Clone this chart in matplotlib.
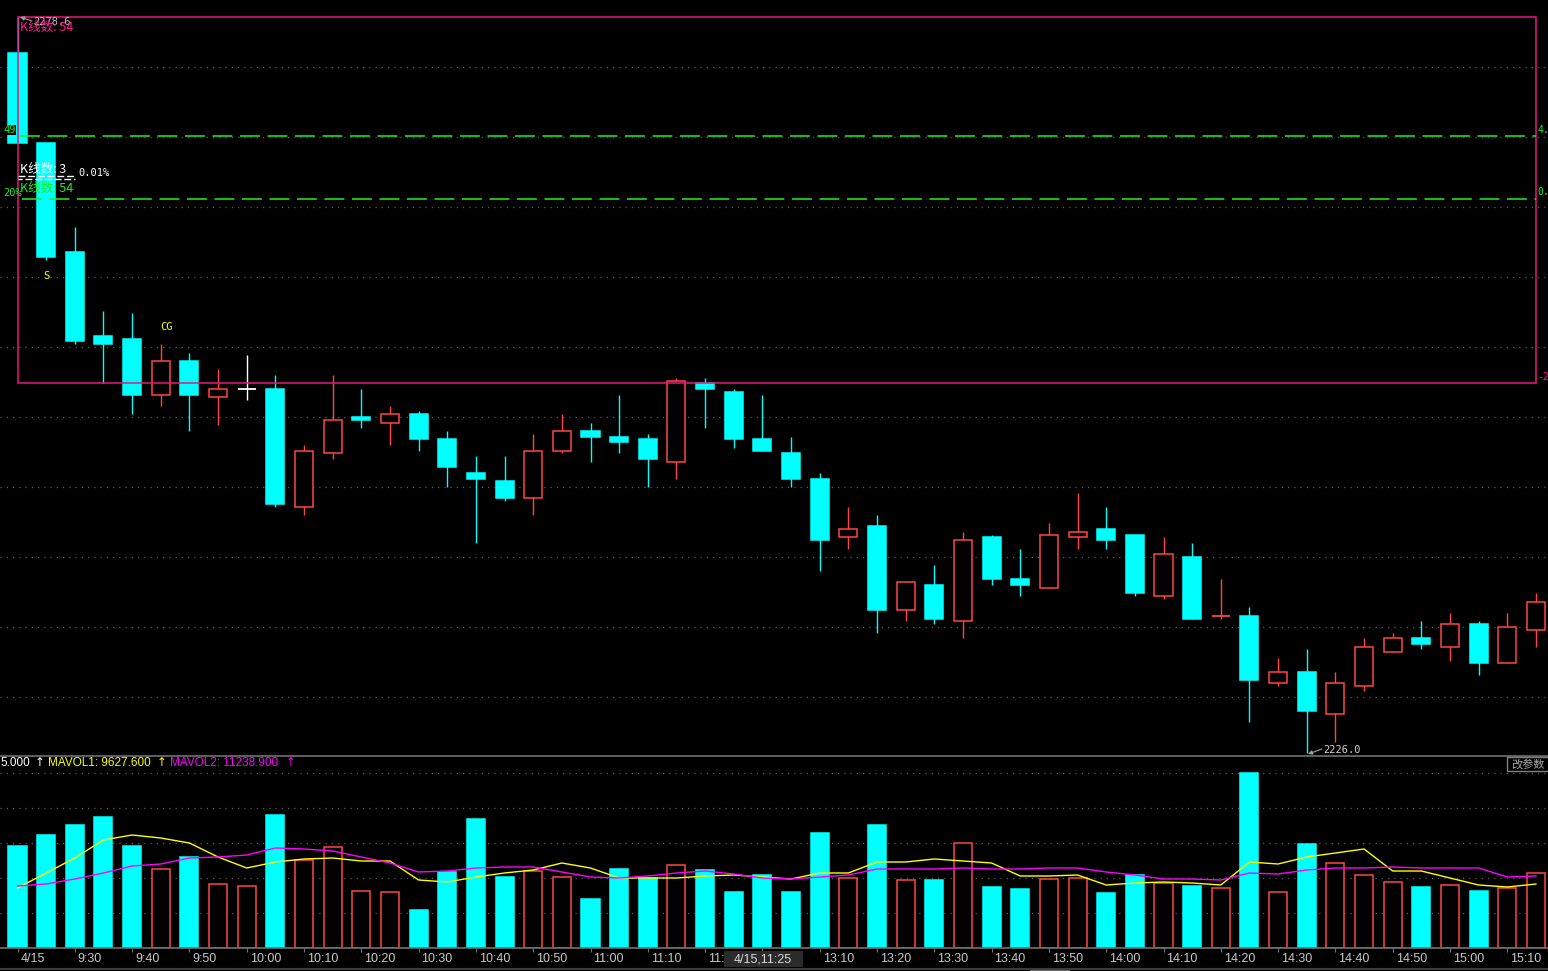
import matplotlib
matplotlib.use("Agg")
import matplotlib.pyplot as plt
from matplotlib.patches import Rectangle

plt.rcParams['font.family'] = ['Liberation Sans', 'DejaVu Sans']

# 5-minute bars, 4/15 session
opens = [2276.0, 2269.6, 2261.8, 2255.8, 2255.6, 2251.6, 2254.0, 2251.4, 2252.0, 2252.0,
         2243.6, 2247.4, 2250.0, 2249.6, 2250.2, 2248.4, 2246.0, 2245.4, 2244.2, 2247.6,
         2249.0, 2248.6, 2248.4, 2246.8, 2252.4, 2251.8, 2248.4, 2247.4, 2245.6, 2241.4,
         2242.2, 2236.2, 2238.0, 2235.4, 2241.4, 2238.4, 2237.8, 2241.4, 2242.0, 2241.6,
         2237.2, 2240.0, 2235.8, 2235.8, 2231.0, 2231.8, 2228.8, 2230.8, 2233.2, 2234.2,
         2233.6, 2235.2, 2232.4, 2234.8]
highs = [2278.6, 2269.6, 2263.6, 2257.6, 2257.4, 2255.2, 2254.6, 2253.4, 2254.4, 2253.0,
         2248.0, 2253.0, 2252.0, 2250.8, 2250.4, 2249.0, 2247.2, 2247.2, 2248.8, 2250.2,
         2249.6, 2251.6, 2248.8, 2252.8, 2252.8, 2252.0, 2251.6, 2248.6, 2246.0, 2243.6,
         2243.0, 2238.2, 2239.4, 2241.8, 2241.6, 2240.6, 2242.4, 2244.6, 2243.6, 2241.6,
         2241.4, 2241.0, 2238.4, 2236.4, 2232.8, 2233.4, 2231.8, 2234.2, 2234.6, 2235.4,
         2236.0, 2235.4, 2236.0, 2237.4]
lows = [2269.6, 2261.2, 2255.2, 2252.4, 2250.2, 2250.8, 2249.0, 2249.4, 2251.2, 2243.6,
        2243.0, 2247.0, 2249.2, 2248.0, 2247.6, 2245.0, 2241.0, 2244.0, 2243.0, 2247.4,
        2246.8, 2247.4, 2245.0, 2245.6, 2249.2, 2247.8, 2247.6, 2245.0, 2239.0, 2240.6,
        2234.6, 2235.4, 2235.2, 2234.2, 2238.0, 2237.2, 2237.8, 2240.6, 2240.6, 2237.2,
        2237.0, 2235.6, 2235.6, 2228.2, 2230.8, 2226.0, 2226.8, 2230.4, 2233.2, 2233.4,
        2232.6, 2231.6, 2232.4, 2233.6]
closes = [2269.6, 2261.4, 2255.4, 2255.2, 2251.6, 2254.0, 2251.6, 2252.0, 2252.0, 2243.8,
          2247.6, 2249.8, 2249.8, 2250.2, 2248.4, 2246.4, 2245.6, 2244.2, 2247.6, 2249.0,
          2248.6, 2248.2, 2247.0, 2252.6, 2252.0, 2248.4, 2247.6, 2245.6, 2241.2, 2242.0,
          2236.2, 2238.2, 2235.6, 2241.2, 2238.4, 2238.0, 2241.6, 2241.8, 2241.2, 2237.4,
          2240.2, 2235.6, 2235.8, 2231.2, 2231.8, 2229.0, 2231.0, 2233.6, 2234.2, 2233.8,
          2235.2, 2232.4, 2235.0, 2236.8]
volumes = [15300, 16950, 18450, 19650, 15300, 11850, 13650, 9600, 9300, 19950,
           13200, 15150, 8550, 8400, 5700, 11400, 19350, 10650, 11550, 10650,
           7350, 11850, 10500, 12450, 11700, 8400, 10950, 8400, 17250, 10500,
           18450, 10200, 10200, 15750, 9150, 8850, 10350, 10500, 8250, 10950,
           9750, 9300, 9000, 26250, 8400, 15600, 12750, 10950, 9900, 9150,
           9450, 8550, 9000, 11250]
mavol1 = [9000, 11250, 13500, 16200, 16950, 16500, 15750, 13650, 12000, 12900,
          13350, 13500, 13050, 13050, 10200, 9900, 10650, 11250, 11700, 12750,
          12000, 10500, 10500, 10500, 10800, 10950, 10650, 10350, 11250, 11250,
          12900, 12900, 13350, 13050, 12750, 10800, 10800, 10950, 9450, 9750,
          9900, 9750, 9450, 12900, 12600, 13650, 14250, 14850, 11550, 11550,
          10500, 9450, 9150, 9600]
mavol2 = [9300, 9600, 10350, 11250, 12300, 12600, 13500, 13650, 13950, 15000,
          14850, 14550, 13650, 12750, 11400, 11550, 12000, 12150, 12150, 11400,
          10650, 10500, 10800, 11250, 11550, 11100, 10500, 10350, 10650, 10950,
          11850, 11850, 11850, 12000, 11850, 11850, 12000, 12000, 11400, 10950,
          10350, 10350, 10200, 11250, 11100, 11700, 12000, 12000, 12150, 12000,
          12000, 12000, 10650, 10800]
# one label every 2 bars; the 11:30 one sits under the cursor box and is not shown
tick_labels = ["4/15", "9:30", "9:40", "9:50", "10:00", "10:10", "10:20", "10:30",
               "10:40", "10:50", "11:00", "11:10", "11:20", "", "13:10", "13:20",
               "13:30", "13:40", "13:50", "14:00", "14:10", "14:20", "14:30", "14:40",
               "14:50", "15:00", "15:10"]

# overlay indicator levels
box_top, box_bottom = 2278.6, 2252.4
green_levels = [2270.1, 2265.6]

# colours
UP = '#ff4545'
DOWN = '#00ffff'
GRID = '#5a5a5a'

W, H = 1548, 971
PX = 28.65          # pixels per bar
X0 = 17.5           # pixel centre of first bar
n = len(closes)

fig = plt.figure(figsize=(W / 100, H / 100), dpi=100, facecolor='black')

def fig_rect(top, bottom):
    return [0, 1 - bottom / H, 1, (bottom - top) / H]

xlim = (-X0 / PX, (W - X0) / PX)

# ---- price panel
ax = fig.add_axes(fig_rect(0, 755))
ax.set_facecolor('black')
ax.set_xlim(*xlim)
ax.set_ylim(2275 - (755 - 67) / 14, 2275 + 67 / 14)
ax.axis('off')

for lvl in range(2230, 2280, 5):
    ax.axhline(lvl, color=GRID, lw=0.9, ls=(0, (1, 4)), zorder=0)

bw = 0.63
for i in range(n):
    o, h, l, c = opens[i], highs[i], lows[i], closes[i]
    if c > o:
        col, face = UP, 'black'
    elif c < o:
        col, face = DOWN, DOWN
    else:
        prev = closes[i - 1] if i else c
        col = 'white' if c == prev else (UP if c > prev else DOWN)
        face = col
    ax.vlines(i, l, h, color=col, lw=1, zorder=2)
    if c == o:
        ax.hlines(c, i - bw / 2, i + bw / 2, color=col, lw=1.3, zorder=3)
    else:
        ax.add_patch(Rectangle((i - bw / 2, min(o, c)), bw, abs(c - o),
                               facecolor=face, edgecolor=col, lw=1.1, zorder=3))

# pink indicator box and green dashed levels
ax.add_patch(Rectangle((0, box_bottom), n - 1, box_top - box_bottom,
                       fill=False, edgecolor='#e8187a', lw=1.1, zorder=4))
ax.hlines(green_levels[0], 0.1, n - 1, color='#22ee22', lw=1.1,
          linestyles=(0, (13, 5)), zorder=4)
ax.hlines(green_levels[1], 0.15, n - 1, color='#22ee22', lw=1.1,
          linestyles=(0, (13, 5)), zorder=4)

ax.text(1, 2260.1, 'S', color='#ffff00', fontsize=7.5, ha='center', va='center',
        family='DejaVu Sans Mono', zorder=5)
ax.text(5.2, 2256.4, 'CG', color='#ffff00', fontsize=7.5, ha='center', va='center',
        family='DejaVu Sans Mono', zorder=5)

# ---- volume panel
av = fig.add_axes(fig_rect(756, 948))
av.set_facecolor('black')
av.set_xlim(*xlim)
av.set_ylim(0, 192 * 150)
for k in range(1, 6):
    av.axhline(5250 * k, color=GRID, lw=0.9, ls=(0, (1, 4)), zorder=0)
av.axhline(0, color=GRID, lw=0.9, ls=(0, (1, 4)), zorder=0)

xs = list(range(n))
vol_up = [closes[i] >= (closes[i - 1] if i else opens[i]) for i in xs]
for i in xs:
    if vol_up[i]:
        av.bar(i, volumes[i], width=bw, facecolor='black', edgecolor=UP, lw=1.1, zorder=2)
    else:
        av.bar(i, volumes[i], width=bw, facecolor=DOWN, edgecolor=DOWN, lw=1.1, zorder=2)
av.plot(xs, mavol1, color='#ffff00', lw=1, zorder=3)
av.plot(xs, mavol2, color='#ff00ff', lw=1, zorder=3)

for s in ['left', 'right']:
    av.spines[s].set_visible(False)
av.spines['top'].set_color('#707070')
av.spines['bottom'].set_color('#707070')
av.spines['top'].set_linewidth(1.2)
av.spines['bottom'].set_linewidth(1.2)
tick_pos = list(range(0, n, 2))
av.set_xticks(tick_pos)
av.set_xticklabels([''] * len(tick_pos))
av.tick_params(axis='x', direction='out', length=3, color='#707070')
av.set_yticks([])
for pos, lab in zip(tick_pos, tick_labels):
    if lab:
        av.text(pos + 0.1, (948 - 959) / 192, lab, transform=av.get_xaxis_transform(),
                color='#c8c8c8', fontsize=9, ha='left', va='center')

# ---- overlay in pixel coordinates for labels
ov = fig.add_axes([0, 0, 1, 1])
ov.set_xlim(0, W)
ov.set_ylim(H, 0)
ov.axis('off')
ov.patch.set_alpha(0)

mono = 'DejaVu Sans Mono'
cjk = ['Noto Sans CJK SC', 'DejaVu Sans']

ov.annotate('', xy=(20, 17), xytext=(32, 21),
            arrowprops=dict(arrowstyle='-|>', color='#a0a0a0', lw=0.8,
                            mutation_scale=6, shrinkA=0, shrinkB=0))
ov.text(33, 22, '2278.6', color='#c0c0c0', fontsize=7.5, family=mono, va='center')
ov.text(20, 27, 'K线数: 54', color='#ff1a8c', fontsize=9, family=cjk, va='center')
ov.text(3, 130, '49', color='#22ee22', fontsize=7.5, family=mono, va='center',
        bbox=dict(facecolor='black', edgecolor='none', pad=0.3))
ov.text(3, 193, '20%', color='#22ee22', fontsize=7.5, family=mono, va='center')
ov.text(1537, 130, '4.', color='#22ee22', fontsize=7, family=mono, va='center')
ov.text(1537, 192, '0.', color='#22ee22', fontsize=7, family=mono, va='center')
ov.text(1537, 377, '-2', color='#ff1a8c', fontsize=7, family=mono, va='center')
ov.text(20, 169, 'K线数: 3', color='white', fontsize=9, family=cjk, va='center')
ov.text(78, 173, '0.01%', color='white', fontsize=7.5, family=mono, va='center')
ov.plot([18, 75], [176.5, 176.5], color='white', lw=1, ls=(0, (5, 2)))
ov.plot([18, 75], [179, 179], color='white', lw=1, ls=(2, (5, 2)))
ov.text(20, 188, 'K线数: 54', color='#22ee22', fontsize=9, family=cjk, va='center')

ov.annotate('', xy=(1308, 754), xytext=(1322, 749),
            arrowprops=dict(arrowstyle='-|>', color='#a0a0a0', lw=0.8,
                            mutation_scale=6, shrinkA=0, shrinkB=0))
ov.text(1323, 750, '2226.0', color='#d0d0d0', fontsize=7.5, family=mono, va='center')

# volume header
hy = 763
ov.text(0, hy, '5.000', color='white', fontsize=8.5, va='center')
ov.text(35, hy, '↑', color='white', fontsize=8.5, va='center', family='DejaVu Sans')
ov.text(48, hy, 'MAVOL1: 9627.600', color='#ffff00', fontsize=8.5, va='center')
ov.text(157, hy, '↑', color='#ffff00', fontsize=8.5, va='center', family='DejaVu Sans')
ov.text(170, hy, 'MAVOL2: 11238.900', color='#ff00ff', fontsize=8.5, va='center')
ov.text(286, hy, '↑', color='#ff00ff', fontsize=8.5, va='center', family='DejaVu Sans')

ov.add_patch(Rectangle((1507, 757), 45, 14, facecolor='black', edgecolor='#808080', lw=1))
ov.text(1511, 764, '改参数', color='#a8a8a8', fontsize=8, family=cjk, va='center')

# cursor time box
ov.add_patch(Rectangle((724, 951), 79, 16, facecolor='#2b2b2b', edgecolor='none', zorder=6))
ov.text(763, 959.5, '4/15,11:25', color='#d8d8d8', fontsize=9, ha='center', va='center', zorder=7)

# bottom scroll strip
ov.plot([0, W], [969.5, 969.5], color='#3a3a3a', lw=1.5)
ov.add_patch(Rectangle((1030, 968), 40, 3, facecolor='#707070', edgecolor='none'))

fig.savefig('out.png', dpi=100, facecolor='black')
